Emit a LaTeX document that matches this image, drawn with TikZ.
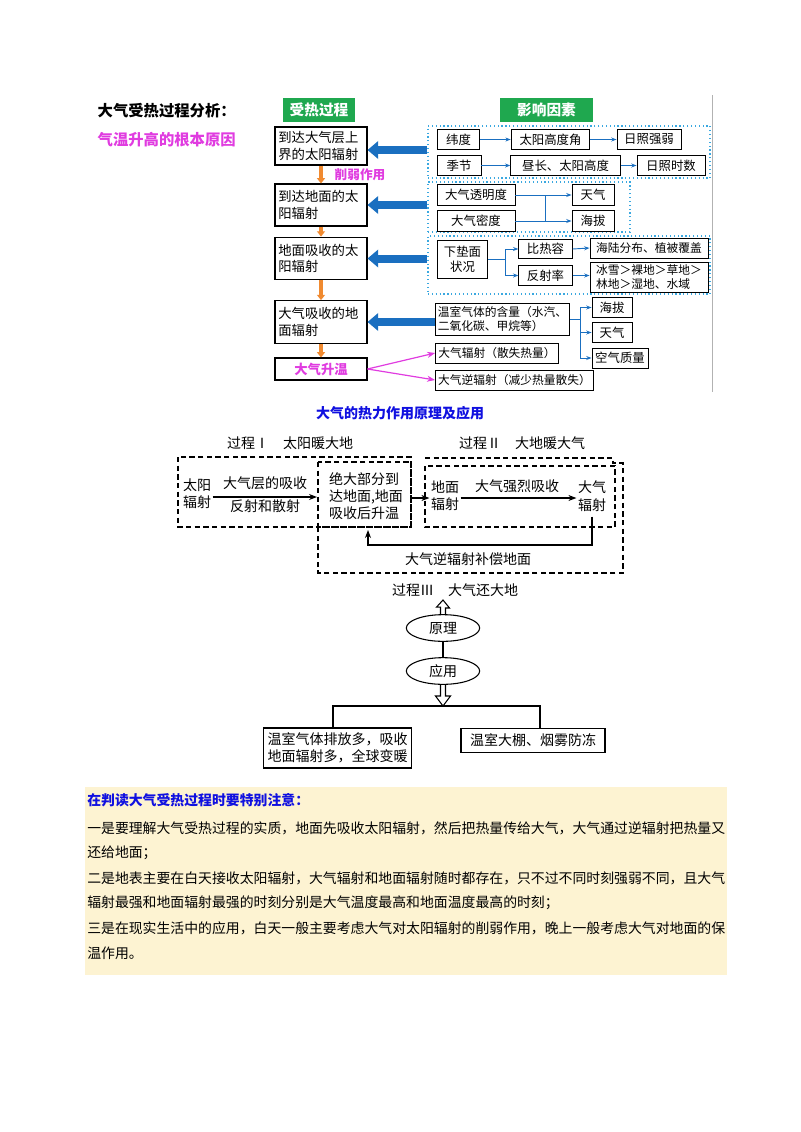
\documentclass[tikz,border=0pt]{standalone}
\usepackage{fontspec}
\setmainfont{Noto Sans CJK SC}
\XeTeXlinebreaklocale "zh"
\XeTeXlinebreakskip=0pt plus 1pt
\usetikzlibrary{arrows.meta,shapes.geometric}
\definecolor{mag}{HTML}{E03CE0}
\definecolor{gr}{HTML}{1FA84F}
\definecolor{bl}{HTML}{1A6FC0}
\definecolor{lb}{HTML}{3AA8E0}
\definecolor{org}{HTML}{F08A30}
\definecolor{note}{HTML}{FDF3D2}
\definecolor{tb}{HTML}{1010E0}
\newcommand{\fa}{\fontsize{10}{12.5}\selectfont}
\newcommand{\fb}{\fontsize{9.3}{11}\selectfont}
\newcommand{\fc}{\fontsize{10.5}{13}\selectfont}
\tikzset{
 lbox/.style={draw,line width=0.8pt,minimum width=69pt,text width=64pt,align=left,inner sep=2pt,font=\fa},
 sbox/.style={draw,line width=0.7pt,inner sep=2pt,font=\fb,align=left},
 frame/.style={draw=lb,dotted,line width=0.9pt,inner sep=0pt},
 head/.style={fill=gr,text=white,font=\fontsize{11}{13}\selectfont\bfseries,inner sep=3pt},
 thin/.style={draw=bl,line width=0.7pt,-{Stealth[length=4pt]}},
 big/.style={draw=bl,line width=6pt,-{Triangle[length=8pt,width=13pt]}},
 oarr/.style={draw=org,line width=2.4pt,-{Triangle[length=4pt,width=6pt]}},
 marr/.style={draw=mag,line width=0.9pt,-{Stealth[length=6pt]}},
 dbox/.style={draw,dashed,line width=0.9pt,dash pattern=on 4pt off 2.5pt},
 ttx/.style={font=\fc,align=center,inner sep=1pt},
 karr/.style={draw,line width=0.8pt,-{Stealth[length=6pt]}},
 ell/.style={draw,ellipse,line width=0.8pt,minimum width=55pt,minimum height=20pt,font=\fc,inner sep=0pt},
 wbox/.style={draw,line width=0.9pt,font=\fc,align=left,inner sep=3pt},
 nt/.style={anchor=west,font=\fontsize{10.4}{12}\selectfont,inner sep=0pt}
}
\begin{document}
\begin{tikzpicture}[x=0.75pt,y=-0.75pt]
\useasboundingbox (0,0) rectangle (800,1132);
% title
\node[anchor=west,font=\fontsize{11.5}{13}\selectfont\bfseries] (t1) at (93,111) {大气受热过程分析：};
\node[anchor=west,font=\fontsize{11.5}{13}\selectfont\bfseries,text=mag] (t2) at (93,140) {气温升高的根本原因};
\draw[gray!60,line width=0.6pt] (712,95) -- (712,392);
\node[head,minimum width=54pt,minimum height=18pt] (h1) at (319,109.5) {受热过程};
\node[head,minimum width=70pt,minimum height=18pt] (h2) at (546.5,109.5) {影响因素};
% left column
\node[lbox,minimum height=28.5pt] (b1) at (321,146) {到达大气层上\\界的太阳辐射};
\node[lbox,minimum height=31.5pt] (b2) at (321,205) {到达地面的太\\阳辐射};
\node[lbox,minimum height=32pt] (b3) at (321,258.5) {地面吸收的太\\阳辐射};
\node[lbox,minimum height=32pt] (b4) at (321,322) {大气吸收的地\\面辐射};
\node[draw,line width=0.8pt,minimum width=69pt,minimum height=16.5pt,font=\fa\bfseries,text=mag] (b5) at (321,369) {大气升温};
\draw[oarr] (b1.south) -- (b2.north);
\draw[oarr] (b2.south) -- (b3.north);
\draw[oarr] (b3.south) -- (b4.north);
\draw[oarr] (b4.south) -- (b5.north);
\node[font=\fontsize{9.5}{11}\selectfont\bfseries,text=mag,anchor=west] (xr) at (330,175) {削弱作用};
% frames
\node[frame,minimum width=211.5pt,minimum height=39pt] (f1) at (569,152) {};
\node[frame,minimum width=151.5pt,minimum height=37.5pt] (f2) at (529,207) {};
\node[frame,minimum width=211.5pt,minimum height=43.5pt] (f3) at (569,265) {};
% frame1
\node[sbox,minimum width=32pt,minimum height=15.5pt] (w1) at (458.5,139.5) {纬度};
\node[sbox,minimum width=59pt,minimum height=15.5pt] (w2) at (550.5,139.5) {太阳高度角};
\node[sbox,minimum width=48pt,minimum height=15.5pt] (w3) at (649,139.5) {日照强弱};
\node[sbox,minimum width=33pt,minimum height=15.5pt] (s1) at (459,165.5) {季节};
\node[sbox,minimum width=82pt,minimum height=15.5pt] (s2) at (565.5,165.5) {昼长、太阳高度};
\node[sbox,minimum width=51pt,minimum height=15.5pt] (s3) at (671,165.5) {日照时数};
\draw[thin] (w1) -- (w2); \draw[thin] (w2) -- (w3);
\draw[thin] (s1) -- (s2); \draw[thin] (s2) -- (s3);
% frame2
\node[sbox,minimum width=58.5pt,minimum height=16pt] (p1) at (476,195) {大气透明度};
\node[sbox,minimum width=58.5pt,minimum height=16pt] (p2) at (476,221) {大气密度};
\node[sbox,minimum width=31.5pt,minimum height=16pt] (q1) at (593,195) {天气};
\node[sbox,minimum width=31.5pt,minimum height=16pt] (q2) at (593,221) {海拔};
\coordinate (j1) at (545,195); \coordinate (j2) at (545,221);
\draw[bl,line width=0.7pt] (p1.east) -- (j1) -- (j2); \draw[bl,line width=0.7pt] (p2.east) -- (j2);
\draw[thin] (j1) -- (q1.west); \draw[thin] (j2) -- (q2.west);
% frame3
\node[sbox,minimum width=38pt,minimum height=28.5pt,align=center] (d1) at (462.5,259) {下垫面\\状况};
\node[sbox,minimum width=40pt,minimum height=14pt] (d2) at (545.5,249) {比热容};
\node[sbox,minimum width=40pt,minimum height=15.5pt] (d3) at (545.5,275.5) {反射率};
\node[sbox,minimum width=88.5pt,minimum height=15pt,font=\fontsize{8.8}{10}\selectfont] (d4) at (649,248) {海陆分布、植被覆盖};
\node[sbox,minimum width=88.5pt,minimum height=22.5pt,font=\fontsize{8.8}{10}\selectfont] (d5) at (649,277) {冰雪＞裸地＞草地＞\\林地＞湿地、水域};
\coordinate (k0) at (505,259); \coordinate (k1) at (505,249); \coordinate (k2) at (505,275.5);
\draw[bl,line width=0.7pt] (d1.east) -- (k0) (k1) -- (k2);
\draw[thin] (k1) -- (d2.west); \draw[thin] (k2) -- (d3.west);
\draw[thin] (d2.east) -- (d4.west); \draw[thin] (d3.east) -- (d5.west |- d3.east);
% row4
\node[sbox,minimum width=101pt,minimum height=24pt,font=\fontsize{8.8}{11}\selectfont] (g) at (502.5,319) {温室气体的含量（水汽、\\二氧化碳、甲烷等）};
\node[sbox,minimum width=30pt,minimum height=15.5pt] (g1) at (612,307.5) {海拔};
\node[sbox,minimum width=30pt,minimum height=15.5pt] (g2) at (612,332.5) {天气};
\node[sbox,minimum width=42pt,minimum height=15pt] (g3) at (620,358) {空气质量};
\coordinate (m0) at (580,319); \coordinate (m1) at (580,307.5); \coordinate (m3) at (580,358);
\draw[bl,line width=0.7pt] (g.east) -- (m0) (m1) -- (m3);
\draw[thin] (m1) -- (g1.west); \draw[thin] (m0 |- g2) -- (g2.west); \draw[thin] (m3) -- (g3.west);
\node[sbox,minimum width=90pt,minimum height=15pt,font=\fontsize{8.8}{10}\selectfont] (r1) at (497,353) {大气辐射（散失热量）};
\node[sbox,minimum width=116pt,minimum height=15pt,font=\fontsize{8.8}{10}\selectfont] (r2) at (514.5,380) {大气逆辐射（减少热量散失）};
\draw[marr] (b5.east) -- (r1.west);
\draw[marr] (b5.east) -- (r2.west);
% big arrows
\draw[big] (f1.west |- b1.east) ++(0,4) coordinate (a1) -- (b1.east |- a1);
\draw[big] (f2.west |- b2.east) -- (b2.east);
\draw[big] (f3.west |- b3.east) -- (b3.east);
\draw[big] (g.west |- b4.east) -- (b4.east);
% middle
\node[font=\fontsize{10.5}{12}\selectfont\bfseries,text=tb] (mt) at (400,413) {大气的热力作用原理及应用};
\node[ttx] (l1) at (290,443) {过程Ⅰ\quad 太阳暖大地};
\node[ttx] (l2) at (522,443) {过程Ⅱ\quad 大地暖大气};
\draw[dbox] (178,457) rectangle (411,527);
\draw[dbox] (318,462) rectangle (411,527);
\draw[dbox] (425,466) rectangle (615,527);
\draw[dbox] (425,458) -- (613,458) -- (613,463) -- (623,463) -- (623,573) -- (318,573) -- (318,527);
\node[ttx] (n1) at (197,494) {太阳\\辐射};
\node[ttx,align=left] (n2) at (366,496) {绝大部分到\\达地面,地面\\吸收后升温};
\node[ttx] (n3) at (445,496) {地面\\辐射};
\node[ttx] (n4) at (592,496) {大气\\辐射};
\draw[karr] (n1.east |- 0,497) coordinate (e1) -- (317,497) coordinate (e2);
\node[ttx] (n5) at (265,483) {大气层的吸收};
\node[ttx] (n6) at (265,506) {反射和散射};
\draw[karr] (411,498) -- (n3.west |- 0,498);
\draw[karr] (n3.east |- 0,498) -- (n4.west |- 0,498);
\node[ttx] (n7) at (517,486) {大气强烈吸收};
\coordinate (c1) at (592,545); \coordinate (c2) at (368,545);
\draw[karr] (n4.south) ++(0,4) -- (c1) -- (c2) -- (368,530);
\node[ttx] (n8) at (468,559) {大气逆辐射补偿地面};
\node[ttx] (l3) at (455,590) {过程Ⅲ\quad 大气还大地};
\node[ell] (e1n) at (443,628) {原理};
\node[ell] (e2n) at (443,671) {应用};
\draw[line width=0.8pt] (e1n.south) -- (e2n.north);
\draw[line width=0.8pt,line join=miter] (e1n.north) ++(-2.5,0) -- ++(0,-7) -- ++(-4,0) -- (443,600) -- (449.5,608) -- ++(-4,0) -- (445.5,615);
\draw[line width=0.8pt,line join=miter] (e2n.south) ++(-2.5,0) -- (440.5,696) -- ++(-5,0) -- (443,706) -- (450.5,696) -- ++(-5,0) -- (445.5,685);
\coordinate (hl) at (333,706); \coordinate (hr) at (540,706);
\draw[line width=0.8pt] (333,729) -- (hl) -- (hr) -- (540,729);
\node[wbox,minimum height=30pt] (o1) at (337.5,748) {温室气体排放多，吸收\\地面辐射多，全球变暖};
\node[wbox,minimum width=108pt,minimum height=18pt] (o2) at (533,740.5) {温室大棚、烟雾防冻};
% notes
\fill[note] (85,787) rectangle (727,975);
\node[nt,font=\fontsize{10.4}{12}\selectfont\bfseries,text=tb] (k1t) at (87,800) {在判读大气受热过程时要特别注意：};
\node[nt] (k2) at (87,828) {一是要理解大气受热过程的实质，地面先吸收太阳辐射，然后把热量传给大气，大气通过逆辐射把热量又};
\node[nt] (k3) at (87,853) {还给地面；};
\node[nt] (k4) at (87,878) {二是地表主要在白天接收太阳辐射，大气辐射和地面辐射随时都存在，只不过不同时刻强弱不同，且大气};
\node[nt] (k5) at (87,903) {辐射最强和地面辐射最强的时刻分别是大气温度最高和地面温度最高的时刻；};
\node[nt] (k6) at (87,928) {三是在现实生活中的应用，白天一般主要考虑大气对太阳辐射的削弱作用，晚上一般考虑大气对地面的保};
\node[nt] (k7) at (87,953) {温作用。};
\end{tikzpicture}
\end{document}
